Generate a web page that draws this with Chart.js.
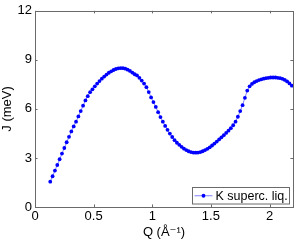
<!DOCTYPE html>
<html>
<head>
<meta charset="utf-8">
<script src="https://cdn.jsdelivr.net/npm/chart.js@4.4.1/dist/chart.umd.min.js"></script>
<style>
  html,body{margin:0;padding:0;background:#fff}
  #wrap{width:300px;height:240px;position:relative}
</style>
</head>
<body>
<div id="wrap"><canvas id="c"></canvas></div>
<script>
// Q (1/Angstrom) and J (meV)
const qVals = [0.13,0.15,0.17,0.19,0.21,0.23,0.25,0.27,0.29,0.31,0.33,0.35,0.37,0.39,0.41,0.43,0.45,0.47,0.49,0.51,
  0.53,0.55,0.57,0.59,0.61,0.63,0.65,0.67,0.69,0.71,0.73,0.75,0.77,0.79,0.81,0.83,0.85,0.87,0.89,0.91,
  0.93,0.95,0.97,0.99,1.01,1.03,1.05,1.07,1.09,1.11,1.13,1.15,1.17,1.19,1.21,1.23,1.25,1.27,1.29,1.31,
  1.33,1.35,1.37,1.39,1.41,1.43,1.45,1.47,1.49,1.51,1.53,1.55,1.57,1.59,1.61,1.63,1.65,1.67,1.69,1.71,
  1.73,1.75,1.77,1.79,1.81,1.83,1.85,1.87,1.89,1.91,1.93,1.95,1.97,1.99,2.01,2.03,2.05,2.07,2.09,2.11,
  2.13,2.15,2.17,2.19];
const jVals = [1.55,1.88,2.23,2.57,2.92,3.27,3.61,3.96,4.29,4.62,4.93,5.22,5.54,5.87,6.20,6.52,6.78,7.02,7.20,7.38,
  7.55,7.70,7.85,7.98,8.10,8.21,8.30,8.38,8.44,8.48,8.50,8.49,8.46,8.40,8.32,8.22,8.12,8.05,7.90,7.73,
  7.55,7.33,7.03,6.70,6.42,6.12,5.80,5.50,5.22,4.96,4.72,4.49,4.28,4.09,3.93,3.80,3.68,3.57,3.48,3.41,
  3.36,3.33,3.32,3.33,3.36,3.41,3.48,3.56,3.65,3.76,3.88,4.00,4.13,4.26,4.39,4.53,4.67,4.82,5.00,5.22,
  5.52,5.87,6.23,6.68,7.12,7.38,7.53,7.63,7.70,7.76,7.81,7.85,7.88,7.90,7.92,7.92,7.92,7.90,7.88,7.84,
  7.77,7.68,7.56,7.42];
const seriesLabel = 'K superc. liq.';
const xTicks = [0,0.5,1,1.5,2];
const yTicks = [0,3,6,9,12];

const axisGray = '#6a6a6a';
const blue = 'rgb(0,0,255)';
const font13 = {family:"'Liberation Sans', 'DejaVu Sans', Arial, sans-serif", size:13};

// MATLAB style box with inward ticks + legend inside the axes
const boxPlugin = {
  id:'box',
  afterDraw(chart){
    const {ctx, chartArea:a, scales:{x,y}} = chart;
    const tl = 2.6;
    ctx.save();
    ctx.strokeStyle = axisGray; ctx.lineWidth = 1;
    ctx.strokeRect(Math.round(a.left)+0.5, Math.round(a.top)+0.5, Math.round(a.right-a.left), Math.round(a.bottom-a.top));
    ctx.beginPath();
    xTicks.forEach(v=>{ const px=Math.round(x.getPixelForValue(v))+0.5;
      ctx.moveTo(px,a.bottom); ctx.lineTo(px,a.bottom-tl); ctx.moveTo(px,a.top); ctx.lineTo(px,a.top+tl); });
    yTicks.forEach(v=>{ const py=Math.round(y.getPixelForValue(v))+0.5;
      ctx.moveTo(a.left,py); ctx.lineTo(a.left+tl,py); ctx.moveTo(a.right,py); ctx.lineTo(a.right-tl,py); });
    ctx.stroke();
    // legend
    const lx=192.5, ly=187.5, lw=97, lh=16.5;
    ctx.fillStyle='#fff'; ctx.fillRect(lx,ly,lw,lh);
    ctx.strokeRect(lx,ly,lw,lh);
    const my = ly+lh/2;
    ctx.strokeStyle=blue; ctx.lineWidth=0.5;
    ctx.beginPath(); ctx.moveTo(lx+2,my); ctx.lineTo(lx+20,my); ctx.stroke();
    ctx.fillStyle=blue; ctx.beginPath(); ctx.arc(lx+11,my,1.9,0,Math.PI*2); ctx.fill();
    ctx.fillStyle='#000'; ctx.font="12.5px 'Liberation Sans', Arial, sans-serif";
    ctx.textBaseline='middle'; ctx.textAlign='left';
    ctx.fillText(seriesLabel, lx+23, my+0.5);
    ctx.restore();
  }
};

new Chart(document.getElementById('c').getContext('2d'), {
  type:'line',
  data:{ datasets:[{ label:seriesLabel, data:qVals.map((q,i)=>({x:q,y:jVals[i]})),
    borderColor:blue, backgroundColor:blue, borderWidth:0.5, pointRadius:1.9, pointBorderWidth:0,
    pointBackgroundColor:blue, tension:0, fill:false }] },
  options:{
    responsive:true, maintainAspectRatio:false, animation:false,
    layout:{padding:{top:8,right:7,left:0,bottom:0}},
    plugins:{legend:{display:false}, tooltip:{enabled:false}},
    scales:{
      x:{ type:'linear', min:0, max:2.2,
        afterBuildTicks:s=>{ s.ticks = xTicks.map(v=>({value:v})); },
        afterFit:s=>{ s.height = 33; },
        grid:{display:false, drawTicks:false}, border:{display:false},
        ticks:{color:'#000', font:font13, padding:2, maxRotation:0, callback:v=>String(v)},
        title:{display:true, text:'Q (Å⁻¹)', color:'#000', font:font13, padding:{top:0,bottom:0}} },
      y:{ min:0, max:12,
        afterBuildTicks:s=>{ s.ticks = yTicks.map(v=>({value:v})); },
        afterFit:s=>{ s.width = 35; },
        grid:{display:false, drawTicks:false}, border:{display:false},
        ticks:{color:'#000', font:font13, padding:3},
        title:{display:true, text:'J (meV)', color:'#000', font:font13, padding:{top:0,bottom:0}} }
    }
  },
  plugins:[boxPlugin]
});
</script>
</body>
</html>
